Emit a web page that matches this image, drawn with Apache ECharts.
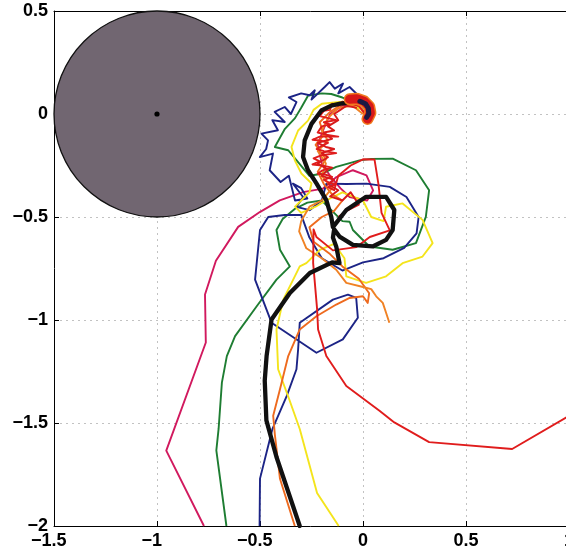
<!DOCTYPE html>
<html>
<head>
<meta charset="utf-8">
<script src="https://cdn.jsdelivr.net/npm/echarts@6/dist/echarts.min.js"></script>
<style>
  html, body { margin: 0; padding: 0; background: #fff; }
  #chart { width: 566px; height: 557px; }
</style>
</head>
<body>
<div id="chart"></div>
<script>
// Axis ticks
const xTickValues = [-1.5, -1, -0.5, 0, 0.5, 1];
const yTickValues = [-2, -1.5, -1, -0.5, 0, 0.5];

// Obstacle disc: centre (x, y) and radius
const obstacle = [[-1, 0, 0.5]];

// Trajectories, [x, y] pairs
const magentaPath = [
  [-0.772,-2.0],[-0.955,-1.634],[-0.763,-1.109],[-0.767,-0.876],[-0.714,-0.712],[-0.606,-0.548],
  [-0.501,-0.476],[-0.404,-0.419],[-0.291,-0.379],[-0.194,-0.362],[-0.129,-0.306],[-0.049,-0.273],
  [0.017,-0.298],[0.049,-0.371],[0.02,-0.42],[-0.065,-0.403],[-0.11,-0.36],[-0.16,-0.3],[-0.2,-0.24],
  [-0.22,-0.15],[-0.19,-0.07],[-0.16,0.0],[-0.1,0.04],[-0.03,0.04],[0.01,0.01]
];
const greenPath = [
  [-0.663,-2.0],[-0.712,-1.633],[-0.701,-1.529],[-0.685,-1.304],[-0.661,-1.175],[-0.621,-1.078],
  [-0.516,-0.933],[-0.42,-0.804],[-0.355,-0.74],[-0.403,-0.659],[-0.42,-0.563],[-0.39,-0.51],
  [-0.33,-0.46],[-0.27,-0.43],[-0.2,-0.42],[-0.15,-0.47],[-0.1,-0.52],[-0.065,-0.523],[-0.049,-0.563],
  [0.031,-0.643],[0.144,-0.659],[0.257,-0.627],[0.305,-0.499],[0.321,-0.37],[0.257,-0.273],
  [0.144,-0.217],[0.04,-0.218],[-0.017,-0.225],[-0.13,-0.257],[-0.2,-0.29],[-0.26,-0.3],[-0.31,-0.24],
  [-0.363,-0.176],[-0.428,-0.16],[-0.379,-0.072],[-0.33,-0.02],[-0.3,0.03],[-0.267,0.089],[-0.2,0.1],
  [-0.154,0.097],[-0.1,0.08],[-0.05,0.06],[0.0,0.02]
];
const bluePath = [
  [-0.502,-2.0],[-0.5,-1.77],[-0.44,-1.53],[-0.37,-1.368],[-0.323,-1.239],[-0.315,-1.143],[-0.307,-1.013],
  [-0.146,-0.901],[-0.073,-0.877],[-0.033,-0.893],[-0.025,-0.989],[-0.098,-1.094],[-0.226,-1.159],
  [-0.444,-1.013],[-0.524,-0.804],[-0.5,-0.563],[-0.46,-0.5],[-0.38,-0.49],[-0.3,-0.49],[-0.26,-0.6],
  [-0.2,-0.7],[-0.1,-0.76],[0.0,-0.72],[0.1,-0.7],[0.2,-0.65],[0.26,-0.58],[0.27,-0.5],[0.211,-0.403],
  [0.13,-0.354],[0.017,-0.338],[-0.08,-0.34],[-0.178,-0.338],[-0.2,-0.42],[-0.259,-0.467],[-0.323,-0.451],
  [-0.291,-0.403],[-0.34,-0.338],[-0.3,-0.36],[-0.27,-0.41],[-0.33,-0.42],[-0.36,-0.3],[-0.4,-0.33],
  [-0.453,-0.273],[-0.437,-0.192],[-0.501,-0.209],[-0.47,-0.17],[-0.461,-0.128],[-0.493,-0.095],
  [-0.413,-0.079],[-0.44,-0.03],[-0.38,-0.039],[-0.429,0.01],[-0.38,0.034],[-0.35,0.0],[-0.323,0.058],
  [-0.36,0.08],[-0.3,0.1],[-0.259,0.091],[-0.234,0.115],[-0.25,0.07],[-0.186,0.131],[-0.162,0.155],
  [-0.137,0.123],[-0.097,0.148],[-0.12,0.1],[-0.065,0.131],[-0.024,0.091],[0.0,0.05],[0.02,0.01]
];
const yellowPath = [
  [-0.118,-2.0],[-0.223,-1.84],[-0.307,-1.529],[-0.36,-1.38],[-0.412,-1.239],[-0.42,-1.046],[-0.387,-0.901],
  [-0.307,-0.74],[-0.275,-0.724],[-0.21,-0.66],[-0.14,-0.63],[-0.09,-0.7],[-0.081,-0.788],[0.015,-0.82],
  [0.112,-0.788],[0.192,-0.724],[0.289,-0.692],[0.338,-0.627],[0.289,-0.514],[0.192,-0.434],[0.112,-0.45],
  [0.1,-0.52],[0.04,-0.5],[0.0,-0.42],[-0.05,-0.4],[-0.1,-0.38],[-0.18,-0.42],[-0.23,-0.45],[-0.3,-0.48],
  [-0.33,-0.45],[-0.26,-0.38],[-0.25,-0.337],[-0.299,-0.289],[-0.331,-0.225],[-0.347,-0.16],[-0.315,-0.08],
  [-0.267,-0.032],[-0.24,0.02],[-0.2,0.05],[-0.1,0.06],[0.0,0.02]
];
const orangeLowPath = [
  [-0.331,-2.0],[-0.403,-1.771],[-0.428,-1.555],[-0.436,-1.465],[-0.403,-1.336],[-0.363,-1.175],
  [-0.307,-1.046],[-0.226,-0.982],[-0.13,-0.925],[-0.065,-0.893],[0.0,-0.885],[0.023,-0.917],[0.03,-0.87],
  [-0.02,-0.8],[-0.1,-0.74],[-0.16,-0.68],[-0.24,-0.62],[-0.26,-0.55],[-0.2,-0.5],[-0.14,-0.47],
  [-0.1,-0.42],[-0.15,-0.39],[-0.19,-0.34],[-0.22,-0.28],[-0.18,-0.22],[-0.23,-0.15],[-0.19,-0.1],
  [-0.21,-0.04],[-0.16,0.01],[-0.1,0.05],[-0.03,0.05],[0.01,0.0]
];
const orangeEndPath = [
  [0.0,0.0],[-0.05,0.04],[-0.12,0.03],[-0.17,-0.02],[-0.2,-0.08],[-0.17,-0.13],[-0.22,-0.18],[-0.18,-0.24],
  [-0.2,-0.3],[-0.15,-0.36],[-0.2,-0.42],[-0.26,-0.45],[-0.3,-0.52],[-0.31,-0.57],[-0.275,-0.652],
  [-0.2,-0.7],[-0.13,-0.756],[-0.081,-0.82],[0.0,-0.84],[0.04,-0.85],[0.064,-0.885],[0.096,-0.917],
  [0.112,-0.965],[0.128,-1.013]
];
const redPath = [
  [0.01,0.0],[-0.02,0.04],[-0.06,0.05],[-0.1,0.06],[-0.12,0.04],[-0.15,0.05],[-0.16,0.02],[-0.19,0.015],
  [-0.21,-0.01],[-0.17,-0.02],[-0.13,-0.03],[-0.19,-0.04],[-0.16,-0.05],[-0.2,-0.06],[-0.22,-0.09],
  [-0.18,-0.1],[-0.12,-0.11],[-0.21,-0.11],[-0.245,-0.125],[-0.2,-0.13],[-0.17,-0.14],[-0.2,-0.155],
  [-0.225,-0.17],[-0.19,-0.18],[-0.13,-0.19],[-0.2,-0.2],[-0.24,-0.215],[-0.21,-0.23],[-0.245,-0.245],
  [-0.2,-0.25],[-0.15,-0.26],[-0.2,-0.275],[-0.22,-0.29],[-0.18,-0.295],[-0.15,-0.305],[-0.19,-0.32],
  [-0.16,-0.335],[-0.13,-0.34],[-0.17,-0.355],[-0.14,-0.37],[-0.12,-0.3],[-0.06,-0.25],[0.0,-0.22],
  [0.056,-0.221],[0.075,-0.34],[0.09,-0.48],[0.13,-0.565],[0.033,-0.597],[-0.032,-0.646],[-0.146,-0.662],
  [-0.226,-0.597],[-0.24,-0.56],[-0.242,-0.724],[-0.223,-0.945],[-0.218,-1.046],[-0.178,-1.175],
  [-0.081,-1.32],[0.08,-1.44],[0.152,-1.497],[0.321,-1.593],[0.724,-1.626],[1.0,-1.465]
];
// Second pass through the red start band
const redBandPath = [
  [-0.03,0.03],[-0.08,0.04],[-0.11,0.02],[-0.14,0.0],[-0.12,-0.03],[-0.17,-0.06],[-0.14,-0.08],
  [-0.19,-0.09],[-0.15,-0.12],[-0.22,-0.14],[-0.18,-0.16],[-0.14,-0.17],[-0.2,-0.19],[-0.17,-0.21],
  [-0.22,-0.24],[-0.17,-0.27],[-0.2,-0.3],[-0.14,-0.32],[-0.17,-0.34],[-0.12,-0.37],[-0.16,-0.4],
  [-0.1,-0.42],[-0.06,-0.38],[-0.02,-0.44],[-0.08,-0.47],[-0.12,-0.5]
];
const meanPath = [
  [0.025,0.0],[0.015,0.04],[-0.02,0.058],[-0.06,0.055],[-0.11,0.05],[-0.154,0.041],[-0.202,0.017],
  [-0.25,-0.048],[-0.283,-0.128],[-0.291,-0.209],[-0.267,-0.273],[-0.226,-0.337],[-0.178,-0.418],
  [-0.154,-0.499],[-0.146,-0.549],[-0.081,-0.466],[0.015,-0.402],[0.112,-0.402],[0.152,-0.466],
  [0.144,-0.563],[0.112,-0.611],[0.047,-0.643],[-0.049,-0.635],[-0.114,-0.595],[-0.14,-0.56],
  [-0.146,-0.6],[-0.13,-0.643],[-0.114,-0.724],[-0.15,-0.72],[-0.258,-0.772],[-0.355,-0.869],
  [-0.444,-0.998],[-0.468,-1.175],[-0.477,-1.294],[-0.469,-1.487],[-0.42,-1.665],[-0.307,-2.0]
];
// Dense start cluster
const startHalo = [[-0.065,0.072],[-0.03,0.074],[0.005,0.062],[0.03,0.037],[0.036,0.005],[0.022,-0.024]];
const startCore = [[-0.015,0.062],[0.012,0.05],[0.026,0.028],[0.028,0.0],[0.018,-0.016]];

const FONT = { fontFamily: 'Liberation Sans', fontWeight: 'bold', fontSize: 18, color: '#000' };
const MINUS_W = 10.5;
const LW = 1.9;

function fmt(v) {
  return v < 0 ? '\u2212' + String(Math.abs(v)) : String(v);
}

function lineSeries(data, color, width, cap) {
  return {
    type: 'line', data: data, symbol: 'none', showSymbol: false, animation: false,
    lineStyle: { color: color, width: width, cap: cap || 'butt', join: 'round' },
    emphasis: { disabled: true }, silent: true
  };
}

const chart = echarts.init(document.getElementById('chart'), null, { renderer: 'canvas' });
chart.setOption({
  animation: false,
  backgroundColor: '#fff',
  grid: { left: 54, top: 11, width: 515, height: 515, containLabel: false, outerBoundsMode: 'none' },
  xAxis: [
    {
      type: 'value', position: 'bottom',
      min: xTickValues[0], max: xTickValues[xTickValues.length - 1],
      interval: xTickValues[1] - xTickValues[0],
      axisLine: { show: true, onZero: false, lineStyle: { color: '#000', width: 1 } },
      axisTick: { show: true, inside: true, length: 5, lineStyle: { color: '#000' } },
      splitLine: { show: true, lineStyle: { color: '#c2c2c2', width: 1, type: [2, 4] } },
      axisLabel: {
        margin: 6,
        formatter: v => v < 0 ? '{t|' + fmt(v) + '}{p| }' : '{t|' + fmt(v) + '}',
        rich: { t: FONT, p: { width: MINUS_W, fontSize: 18 } }
      }
    },
    {
      type: 'value', position: 'top',
      min: xTickValues[0], max: xTickValues[xTickValues.length - 1],
      interval: xTickValues[1] - xTickValues[0],
      axisLine: { show: true, onZero: false, lineStyle: { color: '#000', width: 1 } },
      axisTick: { show: true, inside: true, length: 5, lineStyle: { color: '#000' } },
      splitLine: { show: false },
      axisLabel: { show: false }
    }
  ],
  yAxis: {
    type: 'value',
    min: yTickValues[0], max: yTickValues[yTickValues.length - 1],
    interval: yTickValues[1] - yTickValues[0],
    axisLine: { show: true, onZero: false, lineStyle: { color: '#000', width: 1 } },
    axisTick: { show: true, inside: true, length: 5, lineStyle: { color: '#000' } },
    splitLine: { show: true, lineStyle: { color: '#c2c2c2', width: 1, type: [2, 4] } },
    axisLabel: Object.assign({ margin: 6, formatter: fmt }, FONT)
  },
  series: [
    {
      type: 'custom', data: obstacle, clip: false, silent: true, z: 3,
      renderItem: function (params, api) {
        const c = api.coord([api.value(0), api.value(1)]);
        const r = api.size([api.value(2), 0])[0];
        return {
          type: 'group',
          children: [
            { type: 'circle', shape: { cx: c[0], cy: c[1], r: r },
              style: { fill: '#716671', stroke: '#111', lineWidth: 1.3 } },
            { type: 'circle', shape: { cx: c[0], cy: c[1], r: 2.6 }, style: { fill: '#000' } }
          ]
        };
      }
    },
    lineSeries(magentaPath, '#d1195e', LW),
    lineSeries(greenPath, '#1e7d32', LW),
    lineSeries(bluePath, '#1c2486', LW),
    lineSeries(yellowPath, '#f4e41c', LW),
    lineSeries(orangeLowPath, '#ee6a1e', LW),
    lineSeries(orangeEndPath, '#f08224', LW),
    lineSeries(redPath, '#e01c1c', LW),
    lineSeries(redBandPath, '#d81a1a', LW),
    lineSeries(meanPath, '#111111', 4.3, 'round'),
    lineSeries(startHalo, '#f07a1e', 12, 'round'),
    lineSeries(startHalo, '#d81818', 9, 'round'),
    lineSeries(startCore, '#1a1a44', 5, 'round')
  ]
});
</script>
</body>
</html>
